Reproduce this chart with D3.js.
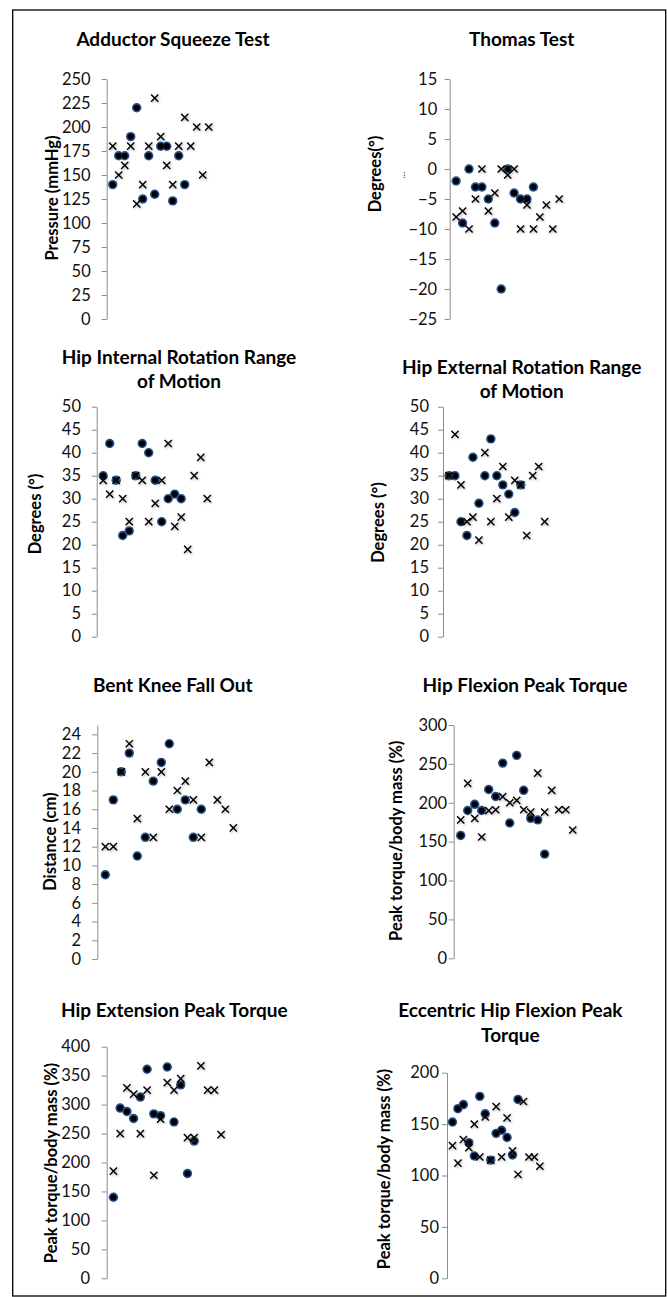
<!DOCTYPE html>
<html>
<head>
<meta charset="utf-8">
<script src="https://cdn.jsdelivr.net/npm/d3@7"></script>
<style>
  html, body { margin: 0; padding: 0; background: #fff; }
  svg { display: block; font-family: Lato, "Open Sans", sans-serif; }
</style>
</head>
<body>
<svg id="chart" width="667" height="1297"></svg>
<script>
// ---------------- DATA ----------------
const adductorCircles = [140,170,170,190,220,125,170,130,180,180,123,170,140];
const adductorCrosses = [180,150,160,180,120,140,180,230,190,160,140,180,210,180,200,150,200];
const adductorTicks = [0,25,50,75,100,125,150,175,200,225,250];

const thomasCircles = [-2,-9,0,-3,-3,-5,-9,-20,0,-4,-5,-5,-3];
const thomasCrosses = [-8,-7,-10,-5,0,-7,-4,0,-1,0,-10,-6,-10,-8,-6,-10,-5];
const thomasTicks = [-25,-20,-15,-10,-5,0,5,10,15];

const hipIRCircles = [35,42,34,22,23,35,42,40,34,25,30,31,30];
const hipIRCrosses = [34,31,34,30,25,35,34,25,29,34,42,24,26,19,35,39,30];
const hipERCircles = [35,35,25,22,39,29,35,43,35,33,31,27,33];
const hipERCrosses = [35,44,33,25,26,21,40,25,30,37,26,34,33,22,35,37,25];
const romTicks = [0,5,10,15,20,25,30,35,40,45,50];

const bkfoCircles = [9,17,20,22,11,13,19,21,23,16,17,13,16];
const bkfoCrosses = [12,12,20,23,15,20,13,20,16,18,19,17,13,21,17,16,14];
const bkfoTicks = [0,2,4,6,8,10,12,14,16,18,20,22,24];

const hipFlexCircles = [158,190,198,190,217,208,251,174,261,216,180,178,134];
const hipFlexCrosses = [178,225,180,156,190,191,208,200,203,191,188,238,188,216,191,191,165];
const hipFlexTicks = [0,50,100,150,200,250,300];

const hipExtCircles = [140,294,288,276,313,361,284,281,365,270,334,181,237];
const hipExtCrosses = [185,250,329,318,250,325,178,275,338,325,345,243,243,367,325,325,248];
const hipExtTicks = [0,50,100,150,200,250,300,350,400];

const eccCircles = [152,165,169,132,119,177,160,115,141,144,137,120,174];
const eccCrosses = [129,112,135,127,150,118,157,115,167,118,156,124,101,172,118,118,109];
const eccTicks = [0,50,100,150,200];

// ---------------- LAYOUT ----------------
const panels = [
  {title:["Adductor Squeeze Test"], tx:173, ty:[45.7], ylab:"Pressure (mmHg)", lx:52, ly:198,
   ax:106.7, yTop:79, yBot:319, dom:[0,250], ticks:adductorTicks, sp:6.0, pad:11,
   circles:adductorCircles, crosses:adductorCrosses},
  {title:["Thomas Test"], tx:521.7, ty:[45.7], ylab:"Degrees(°)", lx:375.7, ly:174,
   ax:449.7, yTop:79, yBot:319, dom:[-25,15], ticks:thomasTicks, sp:6.44, pad:7.5,
   circles:thomasCircles, crosses:thomasCrosses},
  {title:["Hip Internal Rotation Range","of Motion"], tx:179, ty:[364.3,388.3], ylab:"Degrees (°)", lx:35.7, ly:514,
   ax:96.7, yTop:406.7, yBot:636.7, dom:[0,50], ticks:romTicks, sp:6.5, pad:10.7,
   circles:hipIRCircles, crosses:hipIRCrosses},
  {title:["Hip External Rotation Range","of Motion"], tx:521.7, ty:[374.3,397.7], ylab:"Degrees (°)", lx:378, ly:522.5,
   ax:443, yTop:406.7, yBot:636.7, dom:[0,50], ticks:romTicks, sp:5.98, pad:9,
   circles:hipERCircles, crosses:hipERCrosses},
  {title:["Bent Knee Fall Out"], tx:172.7, ty:[691.7], ylab:"Distance (cm)", lx:50, ly:841.7,
   ax:97.3, yTop:725, yBot:959, dom:[0,25], ticks:bkfoTicks, sp:8, pad:11.3,
   circles:bkfoCircles, crosses:bkfoCrosses},
  {title:["Hip Flexion Peak Torque"], tx:525, ty:[692.3], ylab:"Peak torque/body mass (%)", lx:396.3, ly:840.8,
   ax:453.7, yTop:725, yBot:958.3, dom:[0,300], ticks:hipFlexTicks, sp:7, pad:1.5,
   circles:hipFlexCircles, crosses:hipFlexCrosses},
  {title:["Hip Extension Peak Torque"], tx:174.3, ty:[1017.3], ylab:"Peak torque/body mass (%)", lx:51.7, ly:1163,
   ax:106.7, yTop:1046.7, yBot:1278.3, dom:[0,400], ticks:hipExtTicks, sp:6.73, pad:11.7,
   circles:hipExtCircles, crosses:hipExtCrosses},
  {title:["Eccentric Hip Flexion Peak","Torque"], tx:510.3, ty:[1017.3,1041.7], ylab:"Peak torque/body mass (%)", lx:384.7, ly:1169,
   ax:447, yTop:1072.7, yBot:1278.3, dom:[0,200], ticks:eccTicks, sp:5.46, pad:3,
   circles:eccCircles, crosses:eccCrosses}
];

// ---------------- DRAW ----------------
const svg = d3.select("#chart");
const defs = svg.append("defs");
defs.append("filter").attr("id","halo").attr("x","-1").attr("y","-1").attr("width","3").attr("height","3")
  .append("feGaussianBlur").attr("stdDeviation", 0.65);
defs.append("filter").attr("id","shadow").attr("x","-1").attr("y","-1").attr("width","3").attr("height","3")
  .append("feGaussianBlur").attr("stdDeviation", 0.8);

svg.append("rect").attr("x",12.7).attr("y",10).attr("width",653).attr("height",1286)
  .attr("fill","none").attr("stroke","#000").attr("stroke-width",1.3);

const crossPath = "M-3.6,-3.6L3.6,3.6M-3.6,3.6L3.6,-3.6";

panels.forEach(p => {
  const g = svg.append("g");
  const y = d3.scaleLinear().domain(p.dom).range([p.yBot, p.yTop]);
  const x = d3.scaleLinear().domain([0,20]).range([p.ax, p.ax + 20*p.sp]);

  // title
  p.title.forEach((t,i) => {
    g.append("text").attr("x",p.tx).attr("y",p.ty[i]).attr("text-anchor","middle")
      .attr("font-weight","bold").attr("font-size",19).attr("fill","#000").text(t);
  });

  // y axis
  const axis = g.append("g").attr("transform",`translate(${p.ax},0)`)
    .call(d3.axisLeft(y).tickValues(p.ticks).tickSize(5).tickSizeOuter(0).tickPadding(p.pad));
  axis.select(".domain").attr("stroke","#8c8c8c").attr("stroke-width",1);
  axis.selectAll(".tick line").attr("stroke","#8c8c8c").attr("stroke-width",1);
  axis.selectAll(".tick text").attr("font-size",16.5).attr("fill","#111")
    .attr("font-family","Lato, 'Open Sans', sans-serif");

  // y label
  g.append("text").attr("transform",`translate(${p.lx},${p.ly}) rotate(-90)`)
    .attr("text-anchor","middle").attr("dy","0.35em").attr("font-weight","bold")
    .attr("font-size",16.5).attr("fill","#000").text(p.ylab);

  // circles (halo + core)
  const cg = g.append("g");
  cg.selectAll("circle.h").data(p.circles).join("circle").attr("class","h")
    .attr("cx",(d,i)=>x(i+1)).attr("cy",d=>y(d)).attr("r",4.7)
    .attr("fill","#24508a").attr("filter","url(#halo)");
  cg.selectAll("circle.c").data(p.circles).join("circle").attr("class","c")
    .attr("cx",(d,i)=>x(i+1)).attr("cy",d=>y(d)).attr("r",3.1).attr("fill","#000");

  // crosses (shadow + mark)
  const xg = g.append("g");
  xg.selectAll("path.s").data(p.crosses).join("path").attr("class","s")
    .attr("transform",(d,i)=>`translate(${x(i+1)+1},${y(d)+1})`).attr("d",crossPath)
    .attr("stroke","#777").attr("stroke-width",1.4).attr("opacity",0.6).attr("filter","url(#shadow)");
  xg.selectAll("path.m").data(p.crosses).join("path").attr("class","m")
    .attr("transform",(d,i)=>`translate(${x(i+1)},${y(d)})`).attr("d",crossPath)
    .attr("stroke","#000").attr("stroke-width",1.4).attr("fill","none");
});

// small stray ellipsis beside the Thomas Test axis title
svg.append("text").attr("transform","translate(401.3,175) rotate(-90)")
  .attr("text-anchor","middle").attr("dy","0.35em").attr("font-size",10).attr("fill","#333").text("...");
</script>
</body>
</html>
